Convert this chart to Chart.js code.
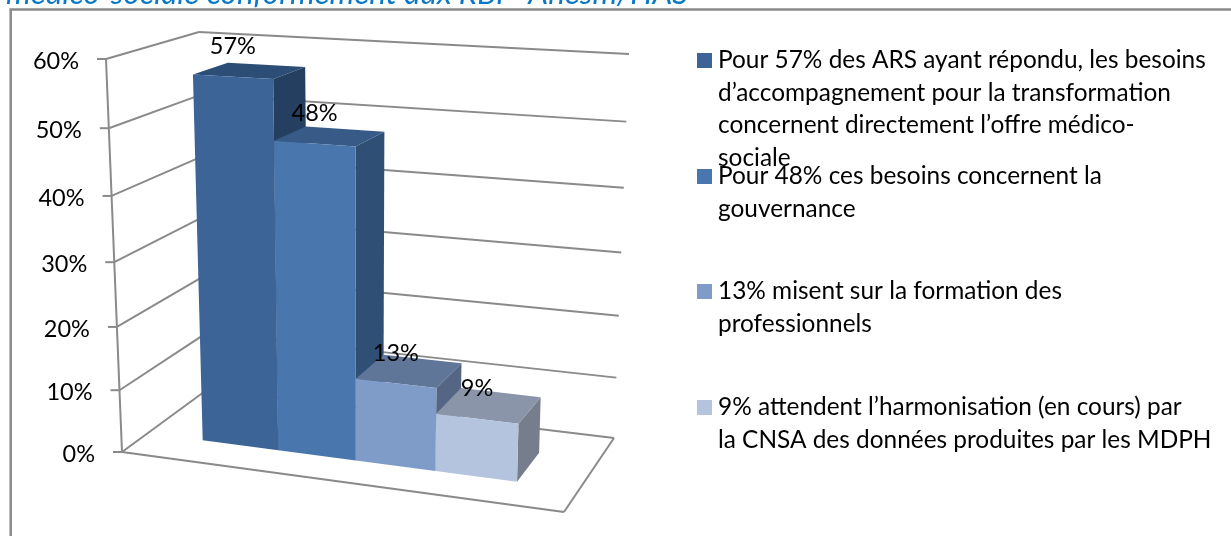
<!DOCTYPE html>
<html>
<head>
<meta charset="utf-8">
<style>
    html, body { margin: 0; padding: 0; background: #fff; overflow: hidden; }
    canvas { display: block; }
</style>
<script src="https://cdn.jsdelivr.net/npm/chart.js@4/dist/chart.umd.min.js"></script>
</head>
<body>
<canvas id="chart" width="1231" height="536"></canvas>
<script>
// data
const categories = [""];
const seriesValues = [57, 48, 13, 9];
const seriesLegends = [
    ["Pour 57% des ARS ayant répondu, les besoins", "d’accompagnement pour la transformation", "concernent directement l’offre médico-", "sociale"],
    ["Pour 48% ces besoins concernent la", "gouvernance"],
    ["13% misent sur la formation des", "professionnels"],
    ["9% attendent l’harmonisation (en cours) par", "la CNSA des données produites par les MDPH"]
];
const frontColors = ["#3d6496", "#4a76ae", "#7f9bc7", "#b4c3de"];
const topColors = ["#2c4d75", "#375a87", "#5f7699", "#8a95a9"];
const sideColors = ["#243f60", "#2f4f75", "#546683", "#767e8e"];
const titleText = "médico-sociale conformément aux RBP  Anesm/HAS";

// the 3d box of the plot, as it lands on the page (front/back, left/right, bottom/top)
const box = {
    flb: [122, 452], frb: [564, 512], blb: [208, 389], brb: [614, 438],
    flt: [106, 59], frt: [578, 84], blt: [199, 32], brt: [629, 54]
};
const barDepth = [0.3, 0.7];
const gridColor = "#8a8a8a";
const fontName = "Lato, 'Open Sans', sans-serif";

function mix(a, b, t) {
    return [a[0] + (b[0] - a[0]) * t, a[1] + (b[1] - a[1]) * t];
}

// u, v, w between 0 and 1: along the x scale, up the y scale, into the depth
function project(u, v, w) {
    u = u + 0.07 * u * (u - 1);
    v = v + 0.068 * v * (v - 1);
    const bottom = mix(mix(box.flb, box.frb, u), mix(box.blb, box.brb, u), w);
    const top = mix(mix(box.flt, box.frt, u), mix(box.blt, box.brt, u), w);
    return mix(bottom, top, v);
}

function polygon(ctx, points, color) {
    ctx.fillStyle = color;
    ctx.beginPath();
    points.forEach((p, i) => i ? ctx.lineTo(p[0], p[1]) : ctx.moveTo(p[0], p[1]));
    ctx.closePath();
    ctx.fill();
}

function line(ctx, a, b) {
    ctx.beginPath();
    ctx.moveTo(a[0], a[1]);
    ctx.lineTo(b[0], b[1]);
    ctx.stroke();
}

const box3d = {
    id: "box3d",
    beforeDatasetsDraw(chart) {
        const ctx = chart.ctx;
        const area = chart.chartArea;
        const yScale = chart.scales.y;
        const toV = value => (yScale.getPixelForValue(0) - yScale.getPixelForValue(value)) / area.height;
        const toU = px => (px - area.left) / area.width;

        ctx.save();

        // page frame and title cut by the top of the picture
        ctx.strokeStyle = gridColor;
        ctx.lineWidth = 2.5;
        line(ctx, [10.7, 536], [10.7, 9.5]);
        line(ctx, [9.5, 9.5], [1231, 9.5]);
        ctx.fillStyle = "#0b78c6";
        ctx.font = "italic 31.4px " + fontName;
        ctx.textAlign = "left";
        ctx.textBaseline = "alphabetic";
        ctx.fillText(titleText, 6, 4);

        // walls and floor
        ctx.lineWidth = 2;
        yScale.ticks.forEach(tick => {
            const v = toV(tick.value);
            const front = project(0, v, 0);
            const back = project(0, v, 1);
            line(ctx, [front[0] - 9, front[1]], front);
            line(ctx, front, back);
            line(ctx, back, project(1, v, 1));
            ctx.fillStyle = "#000";
            ctx.font = "23.5px " + fontName;
            ctx.textAlign = "right";
            ctx.textBaseline = "middle";
            ctx.fillText(tick.label, front[0] - 27, front[1] + 2);
        });
        line(ctx, project(0, 0, 0), project(0, 1, 0));
        line(ctx, project(0, 0, 0), project(1, 0, 0));
        line(ctx, project(1, 0, 0), project(1, 0, 1));

        // boxes, left to right, out of the bar elements of the chart
        const labels = [];
        chart.data.datasets.forEach((dataset, i) => {
            const bar = chart.getDatasetMeta(i).data[0];
            const u0 = toU(bar.x - bar.width / 2);
            const u1 = toU(bar.x + bar.width / 2);
            const v = toV(dataset.data[0]);
            const w0 = barDepth[0];
            const w1 = barDepth[1];
            polygon(ctx, [project(u1, 0, w0), project(u1, v, w0), project(u1, v, w1), project(u1, 0, w1)], sideColors[i]);
            polygon(ctx, [project(u0, v, w0), project(u1, v, w0), project(u1, v, w1), project(u0, v, w1)], topColors[i]);
            polygon(ctx, [project(u0, 0, w0), project(u0, v, w0), project(u1, v, w0), project(u1, 0, w0)], dataset.backgroundColor);
            labels.push({ at: project((u0 + u1) / 2, v, w0), text: dataset.data[0] + "%" });
        });

        ctx.fillStyle = "#000";
        ctx.font = "23.5px " + fontName;
        ctx.textAlign = "center";
        ctx.textBaseline = "middle";
        labels.forEach(l => ctx.fillText(l.text, l.at[0], l.at[1] - 30));

        // legend on the right
        const legendTops = [53, 169, 284, 400];
        chart.data.datasets.forEach((dataset, i) => {
            ctx.fillStyle = dataset.backgroundColor;
            ctx.fillRect(697, legendTops[i], 15, 15);
            ctx.fillStyle = "#000";
            ctx.font = "24.4px " + fontName;
            ctx.textAlign = "left";
            ctx.textBaseline = "middle";
            seriesLegends[i].forEach((text, j) => {
                ctx.fillText(text, 718, legendTops[i] + 7 + j * 32.7);
            });
        });

        ctx.restore();
        return false;
    }
};

new Chart(document.getElementById("chart"), {
    type: "bar",
    data: {
        labels: categories,
        datasets: seriesValues.map((value, i) => ({
            label: seriesLegends[i].join(" "),
            data: [value],
            backgroundColor: frontColors[i],
            categoryPercentage: 0.729,
            barPercentage: 1
        }))
    },
    options: {
        responsive: false,
        animation: false,
        layout: { padding: { left: 100, right: 600, top: 60, bottom: 60 } },
        plugins: { legend: { display: false }, tooltip: { enabled: false } },
        scales: {
            x: { display: false },
            y: {
                display: false,
                min: 0,
                max: 60,
                ticks: { stepSize: 10, callback: value => value + "%" }
            }
        }
    },
    plugins: [box3d]
});
</script>
</body>
</html>
